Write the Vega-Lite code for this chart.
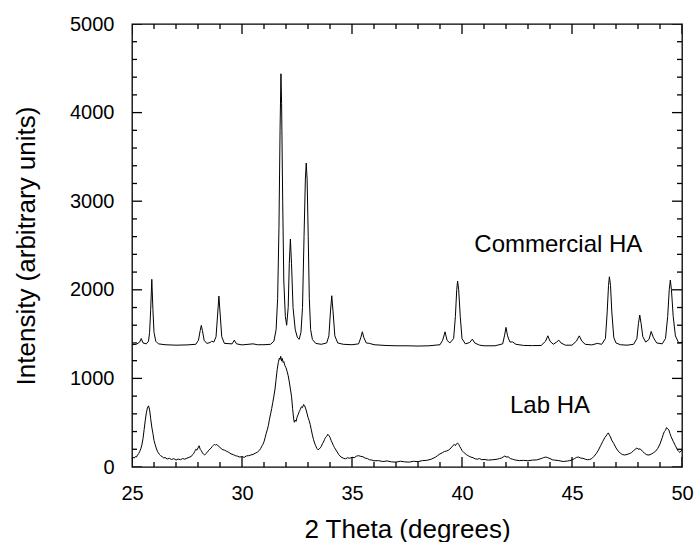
{
  "$schema": "https://vega.github.io/schema/vega-lite/v6.json",
  "autosize": "none",
  "padding": {"left": 132, "top": 24, "right": 12, "bottom": 75},
  "width": 550,
  "height": 443,
  "background": "white",
  "config": {
    "font": "Liberation Sans",
    "view": {"stroke": "black", "strokeWidth": 1.3},
    "axis": {"grid": false, "domain": false, "labelColor": "black", "titleColor": "black", "labelFont": "Liberation Sans", "titleFont": "Liberation Sans", "titleFontWeight": "normal", "labelFontSize": 20, "titleFontSize": 26}
  },
  "datasets": {
    "commercial": [
      {"x": 25.0, "y": 1380}, {"x": 25.2, "y": 1385}, {"x": 25.35, "y": 1410}, {"x": 25.42, "y": 1450}, {"x": 25.5, "y": 1400},
      {"x": 25.65, "y": 1390}, {"x": 25.75, "y": 1420}, {"x": 25.8, "y": 1520}, {"x": 25.85, "y": 1780}, {"x": 25.9, "y": 2118},
      {"x": 25.95, "y": 1780}, {"x": 26.0, "y": 1520}, {"x": 26.08, "y": 1420}, {"x": 26.2, "y": 1390}, {"x": 26.5, "y": 1380},
      {"x": 27.0, "y": 1375}, {"x": 27.5, "y": 1378}, {"x": 27.9, "y": 1385}, {"x": 28.02, "y": 1430}, {"x": 28.1, "y": 1540},
      {"x": 28.15, "y": 1598}, {"x": 28.2, "y": 1540}, {"x": 28.28, "y": 1430}, {"x": 28.4, "y": 1395}, {"x": 28.55, "y": 1405},
      {"x": 28.62, "y": 1420}, {"x": 28.72, "y": 1410}, {"x": 28.82, "y": 1470}, {"x": 28.9, "y": 1750}, {"x": 28.95, "y": 1929},
      {"x": 29.0, "y": 1750}, {"x": 29.08, "y": 1470}, {"x": 29.2, "y": 1395}, {"x": 29.55, "y": 1390}, {"x": 29.65, "y": 1432},
      {"x": 29.75, "y": 1390}, {"x": 30.0, "y": 1378}, {"x": 30.5, "y": 1390}, {"x": 30.7, "y": 1380}, {"x": 31.0, "y": 1380},
      {"x": 31.3, "y": 1385}, {"x": 31.45, "y": 1420}, {"x": 31.55, "y": 1550}, {"x": 31.62, "y": 1900}, {"x": 31.68, "y": 2700},
      {"x": 31.73, "y": 3800}, {"x": 31.77, "y": 4438}, {"x": 31.8, "y": 4100}, {"x": 31.85, "y": 3000}, {"x": 31.9, "y": 2100},
      {"x": 31.97, "y": 1700}, {"x": 32.03, "y": 1600}, {"x": 32.1, "y": 1800}, {"x": 32.15, "y": 2300}, {"x": 32.2, "y": 2573},
      {"x": 32.25, "y": 2300}, {"x": 32.32, "y": 1800}, {"x": 32.42, "y": 1550}, {"x": 32.52, "y": 1460}, {"x": 32.6, "y": 1441},
      {"x": 32.68, "y": 1520}, {"x": 32.75, "y": 1800}, {"x": 32.82, "y": 2600}, {"x": 32.88, "y": 3250}, {"x": 32.92, "y": 3430},
      {"x": 32.96, "y": 3250}, {"x": 33.01, "y": 2600}, {"x": 33.06, "y": 1900}, {"x": 33.12, "y": 1550}, {"x": 33.2, "y": 1440},
      {"x": 33.35, "y": 1395}, {"x": 33.6, "y": 1385}, {"x": 33.85, "y": 1400}, {"x": 33.95, "y": 1480}, {"x": 34.02, "y": 1750},
      {"x": 34.08, "y": 1933}, {"x": 34.14, "y": 1750}, {"x": 34.22, "y": 1480}, {"x": 34.35, "y": 1400}, {"x": 34.6, "y": 1385},
      {"x": 35.0, "y": 1380}, {"x": 35.3, "y": 1390}, {"x": 35.4, "y": 1460}, {"x": 35.47, "y": 1526}, {"x": 35.54, "y": 1460},
      {"x": 35.65, "y": 1400}, {"x": 35.8, "y": 1395}, {"x": 36.0, "y": 1380}, {"x": 36.5, "y": 1372}, {"x": 37.0, "y": 1368},
      {"x": 37.5, "y": 1368}, {"x": 38.0, "y": 1365}, {"x": 38.5, "y": 1368}, {"x": 39.0, "y": 1380}, {"x": 39.12, "y": 1430},
      {"x": 39.23, "y": 1526}, {"x": 39.32, "y": 1430}, {"x": 39.45, "y": 1400}, {"x": 39.62, "y": 1450}, {"x": 39.7, "y": 1700},
      {"x": 39.76, "y": 2000}, {"x": 39.8, "y": 2099}, {"x": 39.85, "y": 2000}, {"x": 39.92, "y": 1700}, {"x": 40.0, "y": 1450},
      {"x": 40.15, "y": 1390}, {"x": 40.35, "y": 1405}, {"x": 40.47, "y": 1443}, {"x": 40.58, "y": 1400}, {"x": 40.8, "y": 1375},
      {"x": 41.0, "y": 1368}, {"x": 41.5, "y": 1368}, {"x": 41.85, "y": 1390}, {"x": 41.93, "y": 1480}, {"x": 42.0, "y": 1576},
      {"x": 42.07, "y": 1480}, {"x": 42.18, "y": 1410}, {"x": 42.3, "y": 1412}, {"x": 42.45, "y": 1385}, {"x": 42.8, "y": 1372},
      {"x": 43.2, "y": 1370}, {"x": 43.6, "y": 1372}, {"x": 43.8, "y": 1420}, {"x": 43.9, "y": 1481}, {"x": 44.0, "y": 1420},
      {"x": 44.15, "y": 1385}, {"x": 44.3, "y": 1410}, {"x": 44.4, "y": 1432}, {"x": 44.5, "y": 1400}, {"x": 44.7, "y": 1375},
      {"x": 45.0, "y": 1375}, {"x": 45.2, "y": 1420}, {"x": 45.33, "y": 1480}, {"x": 45.45, "y": 1420}, {"x": 45.6, "y": 1385},
      {"x": 45.9, "y": 1378}, {"x": 46.15, "y": 1395}, {"x": 46.35, "y": 1385}, {"x": 46.52, "y": 1450}, {"x": 46.6, "y": 1750},
      {"x": 46.66, "y": 2050}, {"x": 46.7, "y": 2147}, {"x": 46.75, "y": 2050}, {"x": 46.81, "y": 1750}, {"x": 46.9, "y": 1460},
      {"x": 47.0, "y": 1400}, {"x": 47.2, "y": 1380}, {"x": 47.5, "y": 1375}, {"x": 47.8, "y": 1385}, {"x": 47.95, "y": 1450},
      {"x": 48.02, "y": 1620}, {"x": 48.08, "y": 1715}, {"x": 48.14, "y": 1620}, {"x": 48.22, "y": 1470}, {"x": 48.35, "y": 1410},
      {"x": 48.5, "y": 1440}, {"x": 48.6, "y": 1530}, {"x": 48.7, "y": 1460}, {"x": 48.85, "y": 1400}, {"x": 49.1, "y": 1390},
      {"x": 49.25, "y": 1450}, {"x": 49.35, "y": 1700}, {"x": 49.42, "y": 2000}, {"x": 49.47, "y": 2110}, {"x": 49.52, "y": 2000},
      {"x": 49.6, "y": 1700}, {"x": 49.7, "y": 1480}, {"x": 49.85, "y": 1400}, {"x": 50.0, "y": 1410}
    ],
    "lab": [
      {"x":25.0,"y":95},{"x":25.05,"y":110},{"x":25.1,"y":100},{"x":25.15,"y":118},{"x":25.2,"y":112},{"x":25.25,"y":135},{"x":25.3,"y":150},{"x":25.35,"y":175},{"x":25.4,"y":205},{"x":25.45,"y":250},
      {"x":25.5,"y":320},{"x":25.55,"y":420},{"x":25.6,"y":520},{"x":25.65,"y":610},{"x":25.7,"y":665},{"x":25.75,"y":690},{"x":25.8,"y":645},{"x":25.85,"y":545},{"x":25.9,"y":450},{"x":25.95,"y":380},
      {"x":26.0,"y":300},{"x":26.05,"y":255},{"x":26.1,"y":215},{"x":26.15,"y":180},{"x":26.2,"y":160},{"x":26.25,"y":140},{"x":26.3,"y":128},{"x":26.4,"y":112},{"x":26.45,"y":100},{"x":26.5,"y":108},
      {"x":26.6,"y":90},{"x":26.7,"y":98},{"x":26.8,"y":85},{"x":26.9,"y":95},{"x":27.0,"y":78},{"x":27.1,"y":90},{"x":27.2,"y":82},{"x":27.3,"y":95},{"x":27.4,"y":88},{"x":27.5,"y":100},
      {"x":27.6,"y":110},{"x":27.7,"y":120},{"x":27.75,"y":140},{"x":27.8,"y":150},{"x":27.85,"y":175},{"x":27.9,"y":200},{"x":27.95,"y":190},{"x":28.0,"y":215},{"x":28.05,"y":240},{"x":28.1,"y":200},
      {"x":28.15,"y":185},{"x":28.2,"y":160},{"x":28.25,"y":145},{"x":28.3,"y":135},{"x":28.35,"y":150},{"x":28.4,"y":160},{"x":28.45,"y":178},{"x":28.5,"y":190},{"x":28.55,"y":205},{"x":28.6,"y":215},
      {"x":28.65,"y":232},{"x":28.7,"y":245},{"x":28.75,"y":258},{"x":28.8,"y":245},{"x":28.85,"y":255},{"x":28.9,"y":240},{"x":28.95,"y":232},{"x":29.0,"y":220},{"x":29.05,"y":210},{"x":29.1,"y":198},
      {"x":29.2,"y":190},{"x":29.3,"y":178},{"x":29.4,"y":165},{"x":29.5,"y":148},{"x":29.6,"y":140},{"x":29.7,"y":128},{"x":29.8,"y":122},{"x":29.9,"y":112},{"x":30.0,"y":118},{"x":30.1,"y":108},
      {"x":30.2,"y":125},{"x":30.3,"y":128},{"x":30.4,"y":135},{"x":30.5,"y":142},{"x":30.6,"y":155},{"x":30.7,"y":168},{"x":30.8,"y":190},{"x":30.85,"y":210},{"x":30.9,"y":235},{"x":30.95,"y":255},
      {"x":31.0,"y":285},{"x":31.05,"y":330},{"x":31.1,"y":380},{"x":31.15,"y":420},{"x":31.2,"y":470},{"x":31.25,"y":540},{"x":31.3,"y":600},{"x":31.35,"y":660},{"x":31.4,"y":730},{"x":31.45,"y":800},
      {"x":31.5,"y":880},{"x":31.55,"y":990},{"x":31.6,"y":1100},{"x":31.65,"y":1180},{"x":31.7,"y":1230},{"x":31.73,"y":1215},{"x":31.76,"y":1250},{"x":31.8,"y":1195},{"x":31.83,"y":1225},{"x":31.87,"y":1180},
      {"x":31.9,"y":1190},{"x":31.95,"y":1145},{"x":32.0,"y":1120},{"x":32.05,"y":1080},{"x":32.1,"y":1030},{"x":32.15,"y":960},{"x":32.2,"y":880},{"x":32.25,"y":800},{"x":32.3,"y":660},{"x":32.35,"y":540},
      {"x":32.38,"y":505},{"x":32.42,"y":530},{"x":32.46,"y":515},{"x":32.5,"y":560},{"x":32.55,"y":590},{"x":32.6,"y":625},{"x":32.65,"y":650},{"x":32.7,"y":680},{"x":32.75,"y":670},{"x":32.8,"y":705},
      {"x":32.85,"y":690},{"x":32.9,"y":655},{"x":32.95,"y":610},{"x":33.0,"y":560},{"x":33.05,"y":525},{"x":33.1,"y":480},{"x":33.15,"y":420},{"x":33.2,"y":360},{"x":33.25,"y":310},{"x":33.3,"y":270},
      {"x":33.35,"y":240},{"x":33.4,"y":210},{"x":33.45,"y":195},{"x":33.5,"y":200},{"x":33.55,"y":215},{"x":33.6,"y":230},{"x":33.65,"y":260},{"x":33.7,"y":280},{"x":33.75,"y":310},{"x":33.8,"y":335},
      {"x":33.85,"y":345},{"x":33.9,"y":370},{"x":33.95,"y":355},{"x":34.0,"y":335},{"x":34.05,"y":300},{"x":34.1,"y":275},{"x":34.15,"y":245},{"x":34.2,"y":220},{"x":34.3,"y":180},{"x":34.4,"y":140},
      {"x":34.5,"y":112},{"x":34.6,"y":100},{"x":34.7,"y":92},{"x":34.8,"y":105},{"x":34.9,"y":98},{"x":35.0,"y":110},{"x":35.1,"y":105},{"x":35.2,"y":122},{"x":35.3,"y":128},{"x":35.4,"y":120},
      {"x":35.5,"y":115},{"x":35.6,"y":100},{"x":35.7,"y":95},{"x":35.8,"y":82},{"x":35.9,"y":78},{"x":36.0,"y":70},{"x":36.2,"y":72},{"x":36.4,"y":62},{"x":36.6,"y":68},{"x":36.8,"y":58},
      {"x":37.0,"y":55},{"x":37.2,"y":65},{"x":37.4,"y":58},{"x":37.6,"y":55},{"x":37.8,"y":65},{"x":38.0,"y":60},{"x":38.2,"y":72},{"x":38.4,"y":75},{"x":38.6,"y":88},{"x":38.8,"y":112},
      {"x":38.9,"y":130},{"x":39.0,"y":148},{"x":39.1,"y":160},{"x":39.2,"y":175},{"x":39.3,"y":180},{"x":39.4,"y":192},{"x":39.5,"y":215},{"x":39.6,"y":245},{"x":39.65,"y":255},{"x":39.7,"y":240},
      {"x":39.75,"y":262},{"x":39.8,"y":270},{"x":39.85,"y":255},{"x":39.9,"y":230},{"x":39.95,"y":210},{"x":40.0,"y":185},{"x":40.1,"y":160},{"x":40.2,"y":140},{"x":40.3,"y":125},{"x":40.4,"y":112},
      {"x":40.5,"y":105},{"x":40.6,"y":92},{"x":40.7,"y":88},{"x":40.8,"y":95},{"x":40.9,"y":82},{"x":41.0,"y":85},{"x":41.2,"y":78},{"x":41.4,"y":82},{"x":41.6,"y":88},{"x":41.7,"y":95},
      {"x":41.8,"y":102},{"x":41.9,"y":118},{"x":41.95,"y":125},{"x":42.0,"y":112},{"x":42.1,"y":115},{"x":42.2,"y":95},{"x":42.3,"y":88},{"x":42.4,"y":80},{"x":42.6,"y":72},{"x":42.8,"y":75},
      {"x":43.0,"y":70},{"x":43.2,"y":78},{"x":43.4,"y":80},{"x":43.5,"y":88},{"x":43.6,"y":95},{"x":43.7,"y":105},{"x":43.8,"y":112},{"x":43.9,"y":105},{"x":44.0,"y":95},{"x":44.1,"y":82},
      {"x":44.2,"y":78},{"x":44.4,"y":72},{"x":44.6,"y":62},{"x":44.8,"y":68},{"x":44.9,"y":72},{"x":45.0,"y":80},{"x":45.1,"y":92},{"x":45.2,"y":108},{"x":45.3,"y":112},{"x":45.4,"y":100},
      {"x":45.5,"y":98},{"x":45.6,"y":88},{"x":45.7,"y":82},{"x":45.8,"y":85},{"x":45.9,"y":95},{"x":46.0,"y":120},{"x":46.1,"y":150},{"x":46.2,"y":190},{"x":46.3,"y":240},{"x":46.4,"y":290},
      {"x":46.5,"y":335},{"x":46.55,"y":350},{"x":46.6,"y":370},{"x":46.65,"y":385},{"x":46.7,"y":360},{"x":46.75,"y":340},{"x":46.8,"y":305},{"x":46.9,"y":265},{"x":47.0,"y":215},{"x":47.1,"y":180},
      {"x":47.2,"y":155},{"x":47.3,"y":140},{"x":47.4,"y":135},{"x":47.5,"y":142},{"x":47.6,"y":150},{"x":47.7,"y":162},{"x":47.8,"y":185},{"x":47.9,"y":205},{"x":47.95,"y":215},{"x":48.0,"y":200},
      {"x":48.1,"y":205},{"x":48.2,"y":178},{"x":48.3,"y":155},{"x":48.4,"y":138},{"x":48.5,"y":135},{"x":48.6,"y":145},{"x":48.7,"y":160},{"x":48.8,"y":178},{"x":48.9,"y":210},{"x":49.0,"y":260},
      {"x":49.1,"y":330},{"x":49.15,"y":370},{"x":49.2,"y":400},{"x":49.25,"y":415},{"x":49.3,"y":445},{"x":49.35,"y":430},{"x":49.4,"y":420},{"x":49.45,"y":380},{"x":49.5,"y":345},{"x":49.6,"y":290},
      {"x":49.7,"y":240},{"x":49.8,"y":190},{"x":49.85,"y":175},{"x":49.9,"y":165},{"x":49.95,"y":180},{"x":50.0,"y":190}
    ],
    "labels": [
      {"x": 44.38, "y": 2430, "label": "Commercial HA"},
      {"x": 44.0, "y": 610, "label": "Lab HA"}
    ],
    "xticks": [
      {"x":25,"y":0,"k":"M"},{"x":26,"y":0,"k":"m"},{"x":27,"y":0,"k":"m"},{"x":28,"y":0,"k":"m"},{"x":29,"y":0,"k":"m"},{"x":30,"y":0,"k":"M"},
      {"x":31,"y":0,"k":"m"},{"x":32,"y":0,"k":"m"},{"x":33,"y":0,"k":"m"},{"x":34,"y":0,"k":"m"},{"x":35,"y":0,"k":"M"},
      {"x":36,"y":0,"k":"m"},{"x":37,"y":0,"k":"m"},{"x":38,"y":0,"k":"m"},{"x":39,"y":0,"k":"m"},{"x":40,"y":0,"k":"M"},
      {"x":41,"y":0,"k":"m"},{"x":42,"y":0,"k":"m"},{"x":43,"y":0,"k":"m"},{"x":44,"y":0,"k":"m"},{"x":45,"y":0,"k":"M"},
      {"x":46,"y":0,"k":"m"},{"x":47,"y":0,"k":"m"},{"x":48,"y":0,"k":"m"},{"x":49,"y":0,"k":"m"},{"x":50,"y":0,"k":"M"},
      {"x":25,"y":5000,"k":"M"},{"x":26,"y":5000,"k":"m"},{"x":27,"y":5000,"k":"m"},{"x":28,"y":5000,"k":"m"},{"x":29,"y":5000,"k":"m"},{"x":30,"y":5000,"k":"M"},
      {"x":31,"y":5000,"k":"m"},{"x":32,"y":5000,"k":"m"},{"x":33,"y":5000,"k":"m"},{"x":34,"y":5000,"k":"m"},{"x":35,"y":5000,"k":"M"},
      {"x":36,"y":5000,"k":"m"},{"x":37,"y":5000,"k":"m"},{"x":38,"y":5000,"k":"m"},{"x":39,"y":5000,"k":"m"},{"x":40,"y":5000,"k":"M"},
      {"x":41,"y":5000,"k":"m"},{"x":42,"y":5000,"k":"m"},{"x":43,"y":5000,"k":"m"},{"x":44,"y":5000,"k":"m"},{"x":45,"y":5000,"k":"M"},
      {"x":46,"y":5000,"k":"m"},{"x":47,"y":5000,"k":"m"},{"x":48,"y":5000,"k":"m"},{"x":49,"y":5000,"k":"m"},{"x":50,"y":5000,"k":"M"}
    ],
    "yticks": [
      {"x":25,"y":0,"k":"M"},{"x":25,"y":200,"k":"m"},{"x":25,"y":400,"k":"m"},{"x":25,"y":600,"k":"m"},{"x":25,"y":800,"k":"m"},{"x":25,"y":1000,"k":"M"},
      {"x":25,"y":1200,"k":"m"},{"x":25,"y":1400,"k":"m"},{"x":25,"y":1600,"k":"m"},{"x":25,"y":1800,"k":"m"},{"x":25,"y":2000,"k":"M"},
      {"x":25,"y":2200,"k":"m"},{"x":25,"y":2400,"k":"m"},{"x":25,"y":2600,"k":"m"},{"x":25,"y":2800,"k":"m"},{"x":25,"y":3000,"k":"M"},
      {"x":25,"y":3200,"k":"m"},{"x":25,"y":3400,"k":"m"},{"x":25,"y":3600,"k":"m"},{"x":25,"y":3800,"k":"m"},{"x":25,"y":4000,"k":"M"},
      {"x":25,"y":4200,"k":"m"},{"x":25,"y":4400,"k":"m"},{"x":25,"y":4600,"k":"m"},{"x":25,"y":4800,"k":"m"},{"x":25,"y":5000,"k":"M"},
      {"x":50,"y":0,"k":"M"},{"x":50,"y":200,"k":"m"},{"x":50,"y":400,"k":"m"},{"x":50,"y":600,"k":"m"},{"x":50,"y":800,"k":"m"},{"x":50,"y":1000,"k":"M"},
      {"x":50,"y":1200,"k":"m"},{"x":50,"y":1400,"k":"m"},{"x":50,"y":1600,"k":"m"},{"x":50,"y":1800,"k":"m"},{"x":50,"y":2000,"k":"M"},
      {"x":50,"y":2200,"k":"m"},{"x":50,"y":2400,"k":"m"},{"x":50,"y":2600,"k":"m"},{"x":50,"y":2800,"k":"m"},{"x":50,"y":3000,"k":"M"},
      {"x":50,"y":3200,"k":"m"},{"x":50,"y":3400,"k":"m"},{"x":50,"y":3600,"k":"m"},{"x":50,"y":3800,"k":"m"},{"x":50,"y":4000,"k":"M"},
      {"x":50,"y":4200,"k":"m"},{"x":50,"y":4400,"k":"m"},{"x":50,"y":4600,"k":"m"},{"x":50,"y":4800,"k":"m"},{"x":50,"y":5000,"k":"M"}
    ]
  },
  "encoding": {
    "x": {"field": "x", "type": "quantitative", "scale": {"domain": [25, 50], "nice": false, "zero": false},
      "axis": {"orient": "bottom", "title": "2 Theta (degrees)", "format": "d", "values": [25, 30, 35, 40, 45, 50], "ticks": false, "labelPadding": 16, "titlePadding": 13, "labelFlush": false}},
    "y": {"field": "y", "type": "quantitative", "scale": {"domain": [0, 5000], "nice": false, "zero": false},
      "axis": {"orient": "left", "title": "Intensity (arbitrary units)", "format": "d", "values": [0, 1000, 2000, 3000, 4000, 5000], "ticks": false, "labelPadding": 18, "titlePadding": 30, "labelFlush": false}}
  },
  "layer": [
    {
      "data": {"name": "commercial"},
      "mark": {"type": "line", "color": "black", "strokeWidth": 1}
    },
    {
      "data": {"name": "lab"},
      "mark": {"type": "line", "color": "black", "strokeWidth": 1}
    },
    {
      "data": {"name": "labels"},
      "mark": {"type": "text", "font": "Liberation Sans", "fontSize": 24, "align": "center", "baseline": "alphabetic", "color": "black"},
      "encoding": {"text": {"field": "label"}}
    },
    {
      "data": {"name": "xticks"},
      "transform": [{"filter": "datum.k == 'M'"}],
      "mark": {"type": "tick", "orient": "vertical", "size": 20, "thickness": 1.3, "color": "black", "opacity": 1, "clip": true}
    },
    {
      "data": {"name": "xticks"},
      "transform": [{"filter": "datum.k == 'm'"}],
      "mark": {"type": "tick", "orient": "vertical", "size": 10, "thickness": 1.3, "color": "black", "opacity": 1, "clip": true}
    },
    {
      "data": {"name": "yticks"},
      "transform": [{"filter": "datum.k == 'M'"}],
      "mark": {"type": "tick", "orient": "horizontal", "size": 20, "thickness": 1.3, "color": "black", "opacity": 1, "clip": true}
    },
    {
      "data": {"name": "yticks"},
      "transform": [{"filter": "datum.k == 'm'"}],
      "mark": {"type": "tick", "orient": "horizontal", "size": 10, "thickness": 1.3, "color": "black", "opacity": 1, "clip": true}
    }
  ]
}
